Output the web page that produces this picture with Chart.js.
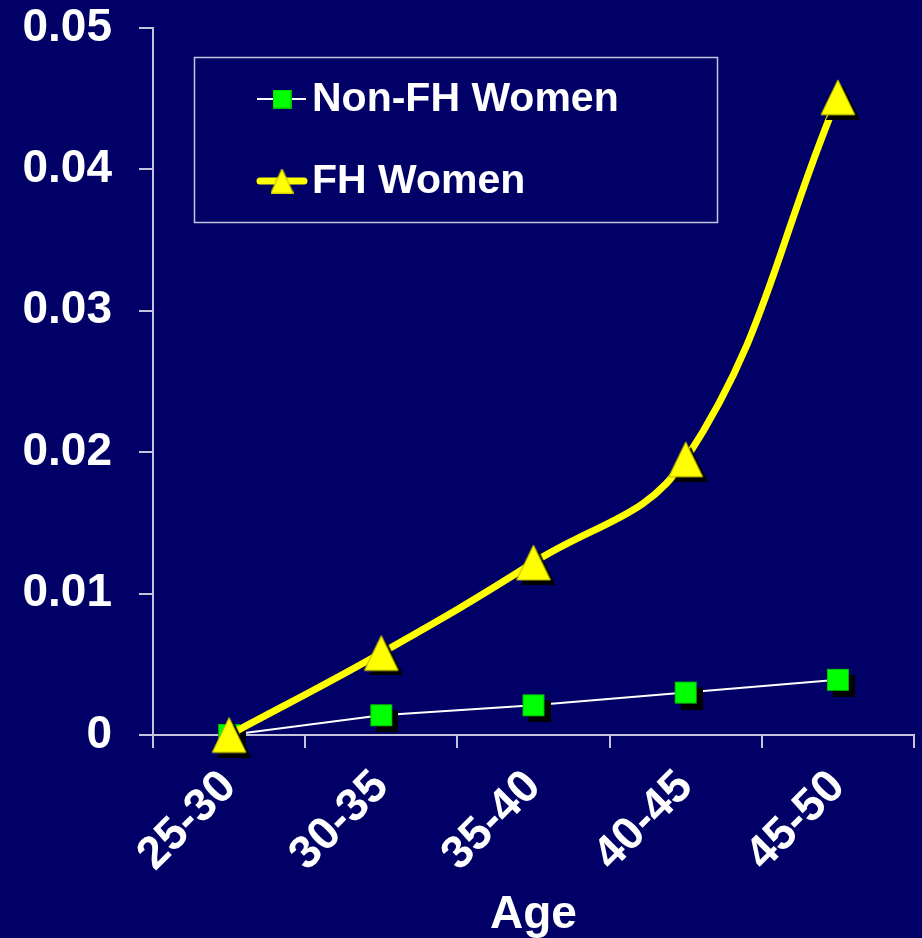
<!DOCTYPE html>
<html>
<head>
<meta charset="utf-8">
<script src="https://cdn.jsdelivr.net/npm/chart.js@4.4.1/dist/chart.umd.min.js"></script>
<style>
  body { margin: 0; background: #000066; }
  .wrap { width: 922px; height: 938px; }
</style>
</head>
<body>
<div class="wrap"><canvas id="myChart" width="922" height="938"></canvas></div>
<script>
const ageGroups = ["25-30", "30-35", "35-40", "40-45", "45-50"];
const nonFhWomen = [0, 0.0014, 0.0021, 0.0030, 0.0039];
const fhWomen = [0, 0.0058, 0.0122, 0.0195, 0.0451];
const seriesNames = ["Non-FH Women", "FH Women"];
const yMin = 0;
const yMax = 0.05;
const yStep = 0.01;

const fontFamily = "'Liberation Sans', Arial, sans-serif";
const gridColor = "#c4c4dc";

// marker images (with the little black drop shadow like the slide)
function squareMarker(size, shadow) {
  const c = document.createElement("canvas");
  const pad = shadow;
  c.width = size + pad * 2;
  c.height = size + pad * 2;
  const g = c.getContext("2d");
  if (shadow) {
    g.fillStyle = "#000";
    g.fillRect(pad + shadow, pad + shadow, size, size);
  }
  g.fillStyle = "#00ff00";
  g.fillRect(pad, pad, size, size);
  g.strokeStyle = "#00c000";
  g.lineWidth = 1;
  g.strokeRect(pad + 0.5, pad + 0.5, size - 1, size - 1);
  return c;
}

function triangleMarker(w, h, shadow) {
  const c = document.createElement("canvas");
  const pad = shadow;
  c.width = w + pad * 2;
  c.height = h + pad * 2;
  const g = c.getContext("2d");
  function tri(ox, oy) {
    g.beginPath();
    g.moveTo(ox + w / 2, oy);
    g.lineTo(ox + w, oy + h);
    g.lineTo(ox, oy + h);
    g.closePath();
  }
  if (shadow) {
    g.fillStyle = "#000";
    tri(pad + shadow, pad + shadow);
    g.fill();
  }
  g.fillStyle = "#ffff00";
  tri(pad, pad);
  g.fill();
  g.strokeStyle = "#b0b000";
  g.lineWidth = 1;
  g.stroke();
  return c;
}

const sqPoint = squareMarker(22, 6);
const triPoint = triangleMarker(34, 35, 5);
const sqLegend = squareMarker(19, 0);
const triLegend = triangleMarker(23, 25, 0);

const boxLegend = {
  id: "boxLegend",
  afterDraw(chart) {
    const ctx = chart.ctx;
    ctx.save();
    ctx.strokeStyle = gridColor;
    ctx.lineWidth = 1.5;
    ctx.strokeRect(194.5, 57.5, 523, 165);

    ctx.font = "bold 41px " + fontFamily;
    ctx.fillStyle = "#ffffff";
    ctx.textBaseline = "middle";

    // Non-FH
    ctx.strokeStyle = "#ffffff";
    ctx.lineWidth = 2;
    ctx.beginPath();
    ctx.moveTo(257, 99);
    ctx.lineTo(306, 99);
    ctx.stroke();
    ctx.drawImage(sqLegend, 282 - sqLegend.width / 2, 99 - sqLegend.height / 2);
    ctx.fillText(seriesNames[0], 312, 100);

    // FH
    ctx.strokeStyle = "#ffff00";
    ctx.lineWidth = 7;
    ctx.lineCap = "round";
    ctx.beginPath();
    ctx.moveTo(260, 181);
    ctx.lineTo(304, 181);
    ctx.stroke();
    ctx.drawImage(triLegend, 282 - triLegend.width / 2, 181 - triLegend.height / 2);
    ctx.fillText(seriesNames[1], 312, 182);
    ctx.restore();
  }
};

const ctx = document.getElementById("myChart");

new Chart(ctx, {
  type: "line",
  data: {
    labels: ageGroups,
    datasets: [
      {
        label: seriesNames[0],
        data: nonFhWomen,
        borderColor: "#ffffff",
        borderWidth: 2,
        tension: 0,
        pointStyle: sqPoint,
        pointRadius: 12,
        clip: false,
        order: 1,
      },
      {
        label: seriesNames[1],
        data: fhWomen,
        borderColor: "#ffff00",
        borderWidth: 7,
        borderCapStyle: "round",
        tension: 0.4,
        pointStyle: triPoint,
        pointRadius: 18,
        clip: false,
        order: 0,
      },
    ],
  },
  options: {
    responsive: false,
    animation: false,
    events: [],
    layout: {
      autoPadding: false,
      padding: { top: 28, right: 8, left: 0, bottom: 0 },
    },
    scales: {
      x: {
        offset: true,
        grid: {
          offset: true,
          drawOnChartArea: false,
          color: gridColor,
          lineWidth: 2,
          tickLength: 13,
        },
        border: { color: gridColor, width: 2 },
        ticks: {
          color: "#ffffff",
          font: { family: fontFamily, size: 46, weight: "bold" },
          minRotation: 45,
          maxRotation: 45,
          padding: 12,
          autoSkip: false,
        },
        title: {
          display: true,
          text: "Age",
          color: "#ffffff",
          font: { family: fontFamily, size: 46, weight: "bold" },
          padding: { top: 0, bottom: -5 },
        },
        afterFit(scale) {
          scale.height = 203;
          scale.paddingLeft = 0;
          scale.paddingRight = 0;
        },
      },
      y: {
        min: yMin,
        max: yMax,
        grid: {
          drawOnChartArea: false,
          color: gridColor,
          lineWidth: 2,
          tickLength: 14,
        },
        border: { color: gridColor, width: 2 },
        ticks: {
          stepSize: yStep,
          color: "#ffffff",
          font: { family: fontFamily, size: 46, weight: "bold" },
          padding: 27,
          callback: (v) => (v === 0 ? "0" : v.toFixed(2)),
        },
        afterFit(scale) {
          scale.width = 153;
          scale.paddingTop = 0;
          scale.paddingBottom = 0;
        },
      },
    },
    plugins: {
      legend: { display: false },
      tooltip: { enabled: false },
    },
  },
  plugins: [boxLegend],
});
</script>
</body>
</html>
